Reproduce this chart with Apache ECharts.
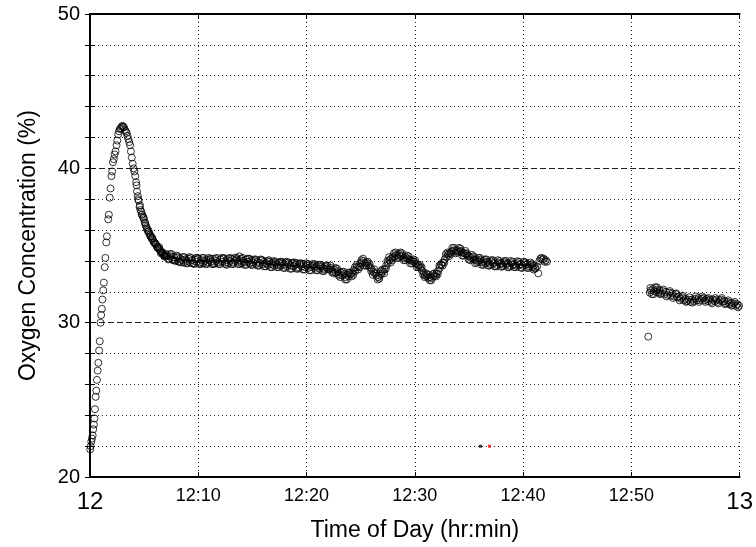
<!DOCTYPE html>
<html><head><meta charset="utf-8">
<script src="https://cdn.jsdelivr.net/npm/echarts@6/dist/echarts.min.js"></script>
<style>html,body{margin:0;padding:0;background:#fff}#c{width:756px;height:547px}</style>
</head><body><div id="c"></div>
<script>
// Time in minutes after 12:00, oxygen concentration in %
const riseAndDecay = [[0.02,21.8],[0.06,22.0],[0.12,22.3],[0.18,22.5],[0.25,22.7],[0.30,23.1],[0.36,23.4],[0.41,23.8],[0.46,24.4],[0.52,25.2],[0.58,25.6],[0.64,26.3],[0.71,26.9],[0.77,27.4],[0.84,28.2],[0.90,28.8],[0.97,30.0],[1.03,30.5],[1.09,30.9],[1.15,31.5],[1.22,32.1],[1.28,32.6],[1.36,33.6],[1.42,34.2],[1.50,35.2],[1.56,35.6],[1.68,36.7],[1.74,37.0],[1.82,38.1],[1.90,38.7],[1.98,39.5],[2.05,39.8],[2.12,40.4],[2.20,40.6],[2.27,40.9],[2.36,41.1],[2.45,41.5],[2.52,41.8],[2.60,42.2],[2.68,42.4],[2.76,42.55],[2.84,42.6],[2.92,42.7],[3.00,42.75],[3.07,42.7],[3.14,42.65],[3.22,42.5],[3.30,42.4],[3.38,42.3],[3.46,42.1],[3.54,41.9],[3.62,41.7],[3.70,41.5],[3.78,41.1],[3.86,40.7],[3.94,40.3],[4.02,40.0],[4.10,39.8],[4.18,39.5],[4.26,39.1],[4.34,38.5],[4.42,38.2],[4.50,37.9],[4.58,37.5],[4.66,37.3],[4.74,37.2],[4.82,37.0],[4.90,36.85],[4.98,36.7],[5.06,36.5],[5.14,36.3],[5.22,36.2],[5.30,36.0],[5.38,35.9],[5.46,35.8],[5.54,35.7],[5.62,35.6],[5.70,35.45],[5.78,35.4],[5.86,35.3],[5.94,35.2],[6.02,35.15],[6.10,35.05],[6.18,34.95],[6.26,34.9],[6.34,34.8],[6.42,34.75],[6.50,34.65],[6.58,34.6],[6.66,34.5],[6.74,34.45],[6.82,34.4],[6.90,34.35],[6.98,34.3],[7.06,34.3]];
const decayB = [[4.30,38.9],[4.45,38.0],[4.62,37.6],[4.78,37.0],[4.95,36.8],[5.10,36.45],[5.25,36.1],[5.42,35.95],[5.58,35.6],[5.75,35.5],[5.90,35.2],[6.06,35.1],[6.22,34.85],[6.38,34.9],[6.55,34.5],[6.70,34.55],[6.86,34.3],[7.00,34.45]];
const plateau = [[7.15,34.35],[7.30,34.15],[7.45,34.3],[7.60,34.1],[7.75,34.25],[7.90,34.0],[8.05,34.2],[8.20,33.95],[8.35,34.15],[8.50,34.05],[8.65,33.9],[8.80,34.1],[8.95,34.0],[9.10,34.15],[9.25,33.9],[9.40,34.05],[9.55,33.85],[9.70,34.1],[9.85,33.95],[10.00,34.15],[10.15,33.9],[10.30,34.05],[10.45,33.85],[10.60,34.0],[10.75,34.1],[10.90,33.9],[11.05,34.05],[11.20,33.95],[11.35,34.15],[11.50,33.85],[11.65,34.0],[11.80,33.9],[12.05,34.1],[12.20,33.95],[12.35,34.2],[12.50,33.9],[12.65,34.05],[12.80,33.85],[12.95,34.0],[13.10,34.15],[13.25,33.9],[13.40,34.0],[13.55,34.2],[13.70,33.95],[13.80,34.3],[13.85,34.05],[14.00,33.85],[14.15,34.0],[14.30,33.9],[14.45,34.1],[14.60,33.95],[14.75,33.85],[14.90,34.05],[15.05,33.9],[15.20,34.0],[15.35,33.8],[15.50,33.95],[15.65,33.85],[15.80,34.05],[15.95,33.8],[16.10,33.95],[16.25,33.85],[16.40,33.75],[16.55,33.95],[16.70,33.8],[16.85,33.9],[17.00,33.7],[17.15,33.85],[17.30,33.75],[17.45,33.9],[17.60,33.7],[17.75,33.85],[17.90,33.75],[18.05,33.9],[18.20,33.65],[18.35,33.8],[18.50,33.7],[18.65,33.85],[18.80,33.65],[18.95,33.75],[19.10,33.85],[19.25,33.6],[19.40,33.75],[19.55,33.65],[19.70,33.8],[19.85,33.6],[20.00,33.7],[20.15,33.55],[20.30,33.75],[20.45,33.6],[20.60,33.7],[20.75,33.55],[20.90,33.65],[21.05,33.75],[21.20,33.5],[21.35,33.65],[21.50,33.55],[21.65,33.45],[21.80,33.6],[21.95,33.5]];
const plateauB = [[7.22,34.1],[7.52,34.45],[7.82,34.05],[8.12,34.3],[8.42,33.9],[8.72,34.25],[9.02,33.85],[9.32,34.2],[9.62,33.8],[9.92,34.2],[10.22,33.8],[10.52,34.2],[10.82,33.8],[11.12,34.15],[11.42,33.8],[11.72,34.2],[12.02,33.8],[12.32,34.15],[12.62,33.75],[12.92,34.2],[13.22,33.8],[13.52,34.1],[13.82,33.8],[14.12,34.2],[14.42,33.75],[14.72,34.15],[15.02,33.75],[15.32,34.1],[15.62,33.7],[15.92,34.05],[16.22,33.65],[16.52,34.05],[16.82,33.6],[17.12,33.95],[17.42,33.6],[17.72,33.95],[18.02,33.55],[18.32,33.9],[18.62,33.5],[18.92,33.9],[19.22,33.5],[19.52,33.85],[19.82,33.45],[20.12,33.8],[20.42,33.4],[20.72,33.8],[21.02,33.4],[21.32,33.75],[21.62,33.35],[21.92,33.7]];
const plateauC = [[7.37,34.45],[7.67,34.05],[7.97,34.35],[8.27,33.95],[8.57,34.25],[8.87,33.85],[9.17,34.25],[9.47,33.85],[9.77,34.2],[10.07,33.8],[10.37,34.2],[10.67,33.8],[10.97,34.2],[11.27,33.8],[11.57,34.15],[11.87,33.8],[12.17,34.2],[12.47,33.8],[12.77,34.15],[13.07,33.8],[13.37,34.2],[13.67,33.8],[13.97,34.15],[14.27,33.75],[14.57,34.15],[14.87,33.75],[15.17,34.1],[15.47,33.7],[15.77,34.1],[16.07,33.65],[16.37,34.0],[16.67,33.6],[16.97,34.0],[17.27,33.6],[17.57,33.95],[17.87,33.55],[18.17,33.95],[18.47,33.5],[18.77,33.9],[19.07,33.5],[19.37,33.85],[19.67,33.45],[19.97,33.85],[20.27,33.4],[20.57,33.8],[20.87,33.4],[21.17,33.75],[21.47,33.35],[21.77,33.7]];
const waves = [[22.10,33.45],[22.25,33.55],[22.40,33.35],[22.55,33.45],[22.70,33.25],[22.85,33.35],[23.00,33.15],[23.15,33.25],[23.30,33.05],[23.45,33.15],[23.60,32.95],[23.75,33.1],[23.90,33.0],[24.05,33.15],[24.20,33.2],[24.35,33.4],[24.50,33.35],[24.65,33.6],[24.80,33.65],[24.95,33.85],[25.10,33.9],[25.25,34.0],[25.40,33.85],[25.55,33.9],[25.70,33.7],[25.85,33.6],[26.00,33.5],[26.15,33.3],[26.30,33.2],[26.45,33.05],[26.60,32.95],[26.75,33.05],[26.90,33.15],[27.05,33.3],[27.20,33.45],[27.35,33.7],[27.50,33.85],[27.65,34.05],[27.80,34.15],[27.95,34.25],[28.10,34.3],[28.25,34.4],[28.40,34.35],[28.55,34.45],[28.70,34.3],[28.85,34.35],[29.00,34.2],[29.15,34.25],[29.30,34.15],[29.45,34.1],[29.60,34.05],[29.75,34.0],[29.90,33.95],[30.05,33.85],[30.20,33.8],[30.35,33.7],[30.50,33.55],[30.65,33.4],[30.80,33.25],[30.95,33.1],[31.10,33.0],[31.25,32.9],[31.40,32.95],[31.55,32.9],[31.70,33.0],[31.85,33.05],[32.00,33.2],[32.15,33.35],[32.30,33.55],[32.45,33.75],[32.60,33.9],[32.75,34.1],[32.90,34.25],[33.05,34.4],[33.20,34.5],[33.35,34.6],[33.50,34.65],[33.65,34.7],[33.80,34.65],[33.95,34.7],[34.10,34.6],[34.25,34.65],[34.40,34.55],[34.55,34.5],[34.70,34.45],[34.85,34.35],[35.00,34.3],[35.15,34.2],[35.30,34.25],[35.45,34.1],[35.60,34.05],[35.75,34.1],[35.90,33.95],[36.05,34.05],[36.20,33.9],[36.35,34.0],[36.50,33.85],[36.65,33.95],[36.80,33.9],[36.95,33.8],[37.10,33.95],[37.25,33.85],[37.40,33.9],[37.55,33.75],[37.70,33.9],[37.85,33.8],[38.00,33.85],[38.15,33.75],[38.30,33.9],[38.45,33.8],[38.60,33.85],[38.75,33.7],[38.90,33.85],[39.05,33.75],[39.20,33.8],[39.35,33.7],[39.50,33.85],[39.65,33.75],[39.80,33.8],[39.95,33.7],[40.10,33.85],[40.25,33.75],[40.40,33.8],[40.55,33.65],[40.70,33.75],[40.85,33.6],[41.00,33.7],[41.15,33.55],[41.30,33.65],[41.40,33.2],[41.50,34.0],[41.60,34.15],[41.70,34.2],[41.80,34.1],[41.90,34.15],[42.00,33.95],[42.10,34.05],[42.20,33.95]];
const wavesB = [[22.22,33.7],[22.52,33.2],[22.82,33.5],[23.12,32.95],[23.42,33.3],[23.72,32.8],[24.02,33.25],[24.32,33.1],[24.62,33.75],[24.92,33.6],[25.22,34.15],[25.52,33.7],[25.82,33.8],[26.12,33.1],[26.42,33.25],[26.72,32.85],[27.02,33.45],[27.32,33.5],[27.62,34.25],[27.92,34.05],[28.22,34.55],[28.52,34.2],[28.82,34.5],[29.12,34.05],[29.42,34.3],[29.72,33.85],[30.02,34.05],[30.32,33.6],[30.62,33.6],[30.92,32.95],[31.22,33.1],[31.52,32.75],[31.82,33.2],[32.12,33.15],[32.42,33.8],[32.72,33.9],[33.02,34.55],[33.32,34.45],[33.62,34.85],[33.92,34.55],[34.22,34.8],[34.52,34.35],[34.82,34.5],[35.12,34.05],[35.42,34.3],[35.72,33.9],[36.02,34.2],[36.32,33.75],[36.62,34.1],[36.92,33.7],[37.22,34.05],[37.52,33.65],[37.82,34.0],[38.12,33.65],[38.42,34.0],[38.72,33.6],[39.02,33.95],[39.32,33.6],[39.62,33.95],[39.92,33.55],[40.22,33.9],[40.52,33.55],[40.82,33.8],[41.12,33.5]];
const wavesC = [[22.37,33.25],[22.67,33.55],[22.97,33.05],[23.27,33.3],[23.57,32.8],[23.87,33.25],[24.17,33.0],[24.47,33.6],[24.77,33.45],[25.07,34.05],[25.37,33.7],[25.67,33.95],[25.97,33.35],[26.27,33.45],[26.57,32.8],[26.87,33.35],[27.17,33.2],[27.47,34.0],[27.77,33.9],[28.07,34.5],[28.37,34.2],[28.67,34.55],[28.97,34.05],[29.27,34.35],[29.57,33.85],[29.87,34.1],[30.17,33.6],[30.47,33.75],[30.77,33.1],[31.07,33.2],[31.37,32.75],[31.67,33.15],[31.97,33.0],[32.27,33.7],[32.57,33.7],[32.87,34.45],[33.17,34.3],[33.47,34.85],[33.77,34.5],[34.07,34.85],[34.37,34.35],[34.67,34.65],[34.97,34.1],[35.27,34.4],[35.57,33.85],[35.87,34.2],[36.17,33.75],[36.47,34.1],[36.77,33.7],[37.07,34.05],[37.37,33.65],[37.67,34.05],[37.97,33.62],[38.27,34.0],[38.57,33.6],[38.87,34.0],[39.17,33.6],[39.47,33.98],[39.77,33.57],[40.07,33.96],[40.37,33.55],[40.67,33.9],[40.97,33.45]];
const afterGap = [[51.56,29.1],[51.70,31.95],[51.80,32.1],[51.90,31.85],[52.00,32.2],[52.10,32.05],[52.20,32.3],[52.30,32.0],[52.40,32.15],[52.50,31.95],[52.60,32.1],[52.75,31.9],[52.90,32.05],[53.05,31.85],[53.20,32.0],[53.35,31.8],[53.50,31.95],[53.65,31.75],[53.80,31.9],[53.95,31.7],[54.10,31.85],[54.25,31.65],[54.40,31.7],[54.55,31.55],[54.70,31.65],[54.85,31.45],[55.00,31.55],[55.15,31.4],[55.30,31.5],[55.45,31.35],[55.60,31.5],[55.75,31.4],[55.90,31.55],[56.05,31.45],[56.20,31.6],[56.35,31.45],[56.50,31.55],[56.65,31.6],[56.80,31.45],[56.95,31.55],[57.10,31.4],[57.25,31.5],[57.40,31.35],[57.55,31.5],[57.70,31.4],[57.85,31.5],[58.00,31.35],[58.15,31.45],[58.30,31.5],[58.45,31.35],[58.60,31.4],[58.75,31.25],[58.90,31.35],[59.05,31.2],[59.20,31.3],[59.35,31.15],[59.50,31.25],[59.65,31.1],[59.80,31.2],[59.95,31.1]];
const afterGapB = [[51.75,32.25],[52.05,31.85],[52.35,32.3],[52.65,31.85],[52.95,32.15],[53.25,31.7],[53.55,32.05],[53.85,31.6],[54.15,31.9],[54.45,31.45],[54.75,31.75],[55.05,31.35],[55.35,31.65],[55.65,31.3],[55.95,31.7],[56.25,31.35],[56.55,31.7],[56.85,31.35],[57.15,31.6],[57.45,31.25],[57.75,31.6],[58.05,31.25],[58.35,31.6],[58.65,31.2],[58.95,31.45],[59.25,31.1],[59.55,31.35],[59.85,31.0]];
const blackMarker = [[36.06,22.0]];
const redMarker = [[36.9,22.0]];
const xTickLabels = ['12','12:10','12:20','12:30','12:40','12:50','13'];
const yTickLabels = ['20','30','40','50'];

const FONT = '"Liberation Sans", Arial, sans-serif';
const chart = echarts.init(document.getElementById('c'), null, {renderer:'canvas'});
const circleSeries = (d) => ({
  type:'scatter', data:d, symbol:'circle', symbolSize:7,
  itemStyle:{color:'rgba(0,0,0,0)', borderColor:'#000', borderWidth:1},
  emphasis:{disabled:true}, silent:true, animation:false
});
chart.setOption({
  animation:false,
  backgroundColor:'#fff',
  grid:{left:90, right:13, top:14, bottom:69},
  xAxis:[{
    type:'value', min:0, max:60, interval:10, position:'bottom',
    name:'Time of Day (hr:min)', nameLocation:'middle', nameGap:38,
    nameTextStyle:{fontFamily:FONT, fontSize:23, color:'#000'},
    axisLine:{show:true, lineStyle:{color:'#000', width:2}},
    axisTick:{show:true, inside:true, length:5, lineStyle:{color:'#000', width:1}},
    axisLabel:{fontFamily:FONT, color:'#000', margin:10,
      formatter:(v)=>{const s=xTickLabels[Math.round(v/10)]; return (v===0||v===60)?'{b|'+s+'}':'{n|'+s+'}';},
      rich:{b:{fontFamily:FONT, fontSize:24, color:'#000', padding:[3,0,0,0]}, n:{fontFamily:FONT, fontSize:18, color:'#000'}}},
    splitLine:{show:true, lineStyle:{color:'#222', width:1, type:[1,3]}}
  },{
    type:'value', min:0, max:60, interval:10, position:'top',
    axisLine:{show:true, lineStyle:{color:'#000', width:2}},
    axisTick:{show:true, inside:true, length:5, lineStyle:{color:'#000', width:1}},
    axisLabel:{show:false}, splitLine:{show:false}
  }],
  yAxis:[{
    type:'value', min:20, max:50, interval:2, position:'left',
    name:'Oxygen Concentration (%)', nameLocation:'middle', nameGap:50,
    nameTextStyle:{fontFamily:FONT, fontSize:23, color:'#000'},
    axisLine:{show:true, lineStyle:{color:'#000', width:2}},
    axisTick:{show:true, inside:true, length:5, lineStyle:{color:'#000', width:1}},
    axisLabel:{fontFamily:FONT, fontSize:20, color:'#000', margin:10,
      formatter:(v)=>{ if(Math.round(v)%10!==0) return ''; return yTickLabels[Math.round((v-20)/10)]; }},
    splitLine:{show:true, lineStyle:{color:['rgba(0,0,0,0)','#222','#222','#222','#222'], width:1, type:[1,3]}}
  },{
    type:'value', min:20, max:50, interval:10, position:'right',
    axisLine:{show:true, lineStyle:{color:'#000', width:2}},
    axisTick:{show:true, inside:true, length:5, lineStyle:{color:'#000', width:1}},
    minorTick:{show:true, splitNumber:5, length:5, lineStyle:{color:'#000', width:1}},
    axisLabel:{show:false},
    splitLine:{show:true, lineStyle:{color:'#222', width:1, type:[6,3]}}
  }],
  series:[
    circleSeries(riseAndDecay),
    circleSeries(decayB),
    circleSeries(plateau),
    circleSeries(plateauB),
    circleSeries(plateauC),
    circleSeries(waves),
    circleSeries(wavesB),
    circleSeries(wavesC),
    circleSeries(afterGap),
    circleSeries(afterGapB),
    {type:'scatter', data:blackMarker, symbol:'rect', symbolSize:3, itemStyle:{color:'#000'}, silent:true},
    {type:'scatter', data:redMarker, symbol:'rect', symbolSize:3, itemStyle:{color:'#ff0000'}, silent:true}
  ]
});
</script></body></html>
